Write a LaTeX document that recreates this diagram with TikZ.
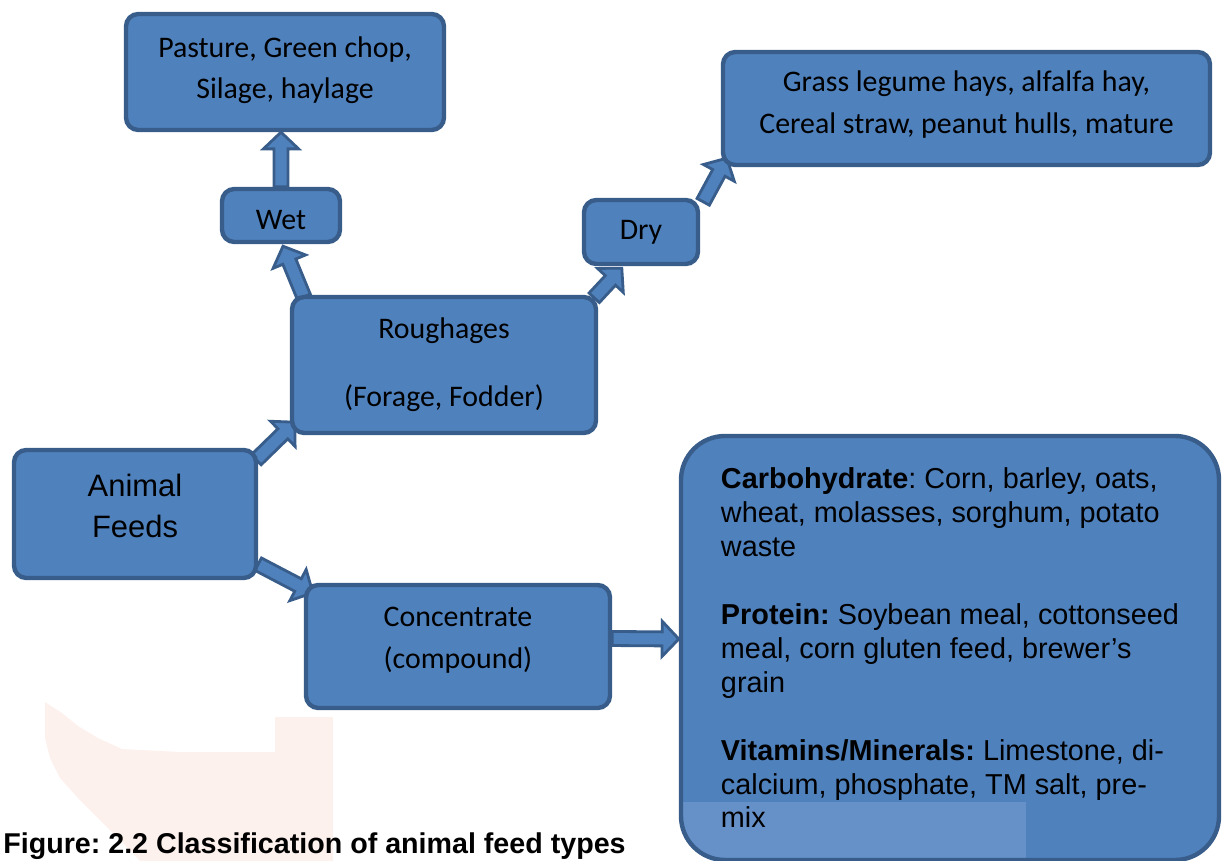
\documentclass[tikz,border=0pt]{standalone}
\usepackage{fontspec}
\setmainfont{Liberation Sans}
\newfontfamily\calib{Carlito}
\newfontfamily\arialf{Liberation Sans}
\usetikzlibrary{calc,backgrounds}
\frenchspacing

\definecolor{boxfill}{HTML}{4F81BD}
\definecolor{boxline}{HTML}{385D8A}
\definecolor{patchblue}{HTML}{6690C8}
\definecolor{markpink}{HTML}{FCE4DC}

\tikzset{
  feedbox/.style 2 args={draw=boxline, fill=boxfill, line width=2.5pt,
    rounded corners=7pt, minimum width={#1*0.02cm}, minimum height={#2*0.02cm},
    inner sep=0pt, align=center, text=black},
  calibtext/.style={font=\calib\fontsize{17}{23.8}\selectfont},
  animtext/.style={font=\arialf\fontsize{17.6}{23.2}\selectfont},
  listtext/.style={font=\arialf\fontsize{16.4}{19.3}\selectfont},
  captext/.style={font=\arialf\bfseries\fontsize{16.3}{20}\selectfont, inner sep=0pt},
  blockarr/.style={draw=boxline, fill=boxfill, line width=1.6pt, line join=miter},
}

% block arrow from point #1 to point #2 (shaft, then a wide head ending at #2)
\newcommand\feedarrow[2]{%
  \path #1 coordinate (fa-s) #2 coordinate (fa-e);
  \coordinate (fa-h) at ($(fa-e)!9.5pt!(fa-s)$);
  \path[blockarr] ($(fa-s)!4pt!90:(fa-e)$) -- ($(fa-h)!4pt!90:(fa-e)$)
    -- ($(fa-h)!10pt!90:(fa-e)$) -- (fa-e) -- ($(fa-h)!10pt!-90:(fa-e)$)
    -- ($(fa-h)!4pt!-90:(fa-e)$) -- ($(fa-s)!4pt!-90:(fa-e)$) -- cycle;}

\begin{document}
\begin{tikzpicture}[x=0.02cm, y=-0.02cm]
  \useasboundingbox (0,0) rectangle (1224,861);

  % feed boxes
  \node[feedbox={318}{116}, calibtext, text depth=5pt] (pasture) at (285,72) {Pasture, Green chop,\\Silage, haylage};
  \node[feedbox={118}{53}, calibtext, text height=16pt] (wet) at (281,215.5) {Wet};
  \node[feedbox={114}{64}, calibtext] (dry) at (641,232) {Dry};
  \node[feedbox={487}{113}, calibtext, text depth=7.5pt] (hay) at (966.5,108.5) {Grass legume hays, alfalfa hay,\\Cereal straw, peanut hulls, mature};
  \node[feedbox={304}{136}, calibtext] (rough) at (444,365) {Roughages\\[14.7pt](Forage, Fodder)};
  \node[feedbox={242}{128}, animtext, text depth=9pt] (feeds) at (135,514) {Animal\\Feeds};
  \node[feedbox={304}{123}, calibtext, text depth=10pt] (conc) at (458,646.5) {Concentrate\\(compound)};
  \node[feedbox={538}{424}, rounded corners=25pt, listtext, align=left,
        path picture={\fill[patchblue, sharp corners] (path picture bounding box.south west)
          rectangle ($(path picture bounding box.south west)+(345,-58)$);}]
    (mix) at (950,648)
    {\textbf{Carbohydrate}: Corn, barley, oats,\\
     wheat, molasses, sorghum, potato\\
     waste\\[19.3pt]
     \textbf{Protein:} Soybean meal, cottonseed\\
     meal, corn gluten feed, brewer’s\\
     grain\\[19.3pt]
     \textbf{Vitamins/Minerals:} Limestone, di-\\
     calcium, phosphate, TM salt, pre-\\
     mix};

  \node[captext, anchor=base west] (cap) at (3,853) {Figure: 2.2 Classification of animal feed types};

  \begin{scope}[on background layer]
    % faint stamp behind the lower left part
    \fill[markpink, opacity=0.5] (45,702) -- (62,713) -- (78,726) -- (98,738) -- (122,749)
      -- (180,752) -- (275,752) -- (275,717) -- (333,717) -- (333,861) -- (140,861)
      -- (118,838) -- (98,818) -- (78,798) -- (60,778) -- (50,758) -- (45,738) -- cycle;

    % connectors
    \feedarrow{(wet.north)}{(wet.north |- pasture.south)}
    \feedarrow{($(rough.north west)+(14,2)$)}{($(wet.south)+(2,2)$)}
    \feedarrow{($(rough.north east)+(-4,3)$)}{($(dry.south west)+(40,2)$)}
    \feedarrow{($(dry.north east)+(3,4)$)}{($(hay.south west)+(6,-9)$)}
    \feedarrow{($(feeds.north east)+(-2,12)$)}{($(rough.south west)+(5,-13)$)}
    \feedarrow{($(feeds.south east)+(0,-16)$)}{($(conc.north west)+(9,10)$)}
    \feedarrow{($(conc.east)+(0,-8)$)}{($(mix.west)+(0,-9)$)}
  \end{scope}
\end{tikzpicture}
\end{document}
